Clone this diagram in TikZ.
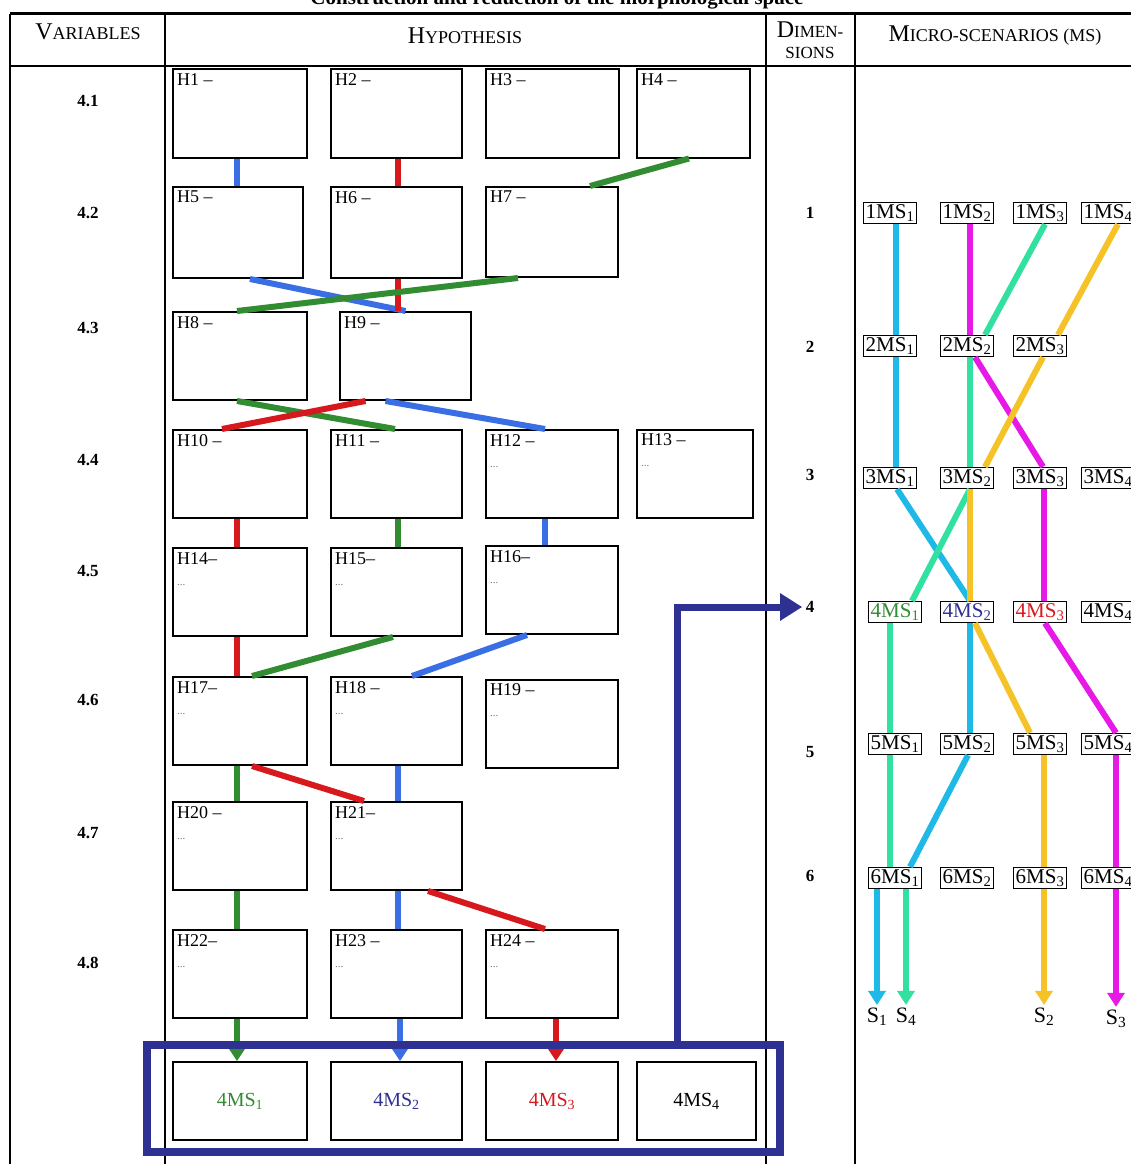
\documentclass[tikz,border=0pt]{standalone}
\usepackage{fontspec}
\setmainfont{Liberation Serif}
\usetikzlibrary{arrows.meta}

\definecolor{hblue}{RGB}{58,110,228}
\definecolor{hred}{RGB}{215,25,30}
\definecolor{hgreen}{RGB}{50,140,50}
\definecolor{navy}{RGB}{46,49,146}
\definecolor{mcyan}{RGB}{30,185,230}
\definecolor{mmag}{RGB}{230,25,230}
\definecolor{maqua}{RGB}{50,225,160}
\definecolor{mgold}{RGB}{245,195,40}
\definecolor{dotgray}{RGB}{120,120,120}

\newcommand{\hdbig}[1]{{\fontsize{24}{26}\selectfont #1}}
\newcommand{\hdsmall}[1]{{\fontsize{18}{21}\selectfont #1}}
\newcommand{\dotsline}{{\color{dotgray}\fontsize{11}{12}\selectfont ...}}

\begin{document}
\begin{tikzpicture}[x=1pt, y=-1pt,
    rule/.style={line width=2pt},
    hyp/.style={draw, line width=2pt, minimum height=88pt, inner sep=0pt},
    hlab/.style={anchor=north west, inner sep=5pt, align=left, font=\fontsize{18}{21}\selectfont},
    mbox/.style={draw, line width=2pt, minimum height=78pt, font=\fontsize{20}{22}\selectfont},
    ms/.style={draw, line width=1.3pt, inner sep=2pt, font=\fontsize{21}{23}\selectfont},
    varlab/.style={font=\bfseries\fontsize{17}{19}\selectfont},
    slab/.style={inner sep=3pt, font=\fontsize{22}{24}\selectfont},
    link/.style={line width=6pt},
    hto/.style={-{Triangle[width=15pt,length=12pt]}},
    mto/.style={-{Triangle[width=17pt,length=14pt]}},
    frame/.style={draw=navy, line width=8pt}
]
    \useasboundingbox (0,0) rectangle (1131,1164);

    % title, cut at the top
    \node[font=\bfseries\fontsize{21}{24}\selectfont, anchor=base] (title) at (557,5)
        {Construction and reduction of the morphological space};

    % table rules
    \draw[line width=3pt] (10,14) -- (1131,14);
    \draw[rule] (10,66) -- (1131,66);
    \draw[rule] (10,14) -- (10,1164);
    \draw[rule] (165,14) -- (165,1164);
    \draw[rule] (766,14) -- (766,1164);
    \draw[rule] (855,14) -- (855,1164);

    % headers
    \node (hvar) at (88,32) {\hdbig{V}\hdsmall{ARIABLES}};
    \node (hhyp) at (465,36) {\hdbig{H}\hdsmall{YPOTHESIS}};
    \node[align=center, inner sep=0pt, font=\fontsize{17}{21}\selectfont] (hdim) at (810,40) {\hdbig{D}IMEN-\\SIONS};
    \node (hms) at (995,36) {\hdbig{M}\hdsmall{ICRO-SCENARIOS (MS)}};

    % variables
    \node[varlab] (v1) at (88,101) {4.1};
    \node[varlab] (v2) at (88,213) {4.2};
    \node[varlab] (v3) at (88,328) {4.3};
    \node[varlab] (v4) at (88,460) {4.4};
    \node[varlab] (v5) at (88,571) {4.5};
    \node[varlab] (v6) at (88,700) {4.6};
    \node[varlab] (v7) at (88,833) {4.7};
    \node[varlab] (v8) at (88,963) {4.8};

    % dimensions
    \node[varlab] (d1) at (810,213) {1};
    \node[varlab] (d2) at (810,347) {2};
    \node[varlab] (d3) at (810,475) {3};
    \node[varlab] (d4) at (810,607) {4};
    \node[varlab] (d5) at (810,752) {5};
    \node[varlab] (d6) at (810,876) {6};

    % hypothesis boxes
    \node[hyp, minimum width=134pt, label={[hlab]north west:H1 –}] (h1) at (240,113.5) {};
    \node[hyp, minimum width=131pt, label={[hlab]north west:H2 –}] (h2) at (396.5,113.5) {};
    \node[hyp, minimum width=133pt, label={[hlab]north west:H3 –}] (h3) at (552.5,113.5) {};
    \node[hyp, minimum width=113pt, label={[hlab]north west:H4 –}] (h4) at (693.5,113.5) {};

    \node[hyp, minimum width=130pt, minimum height=91pt, label={[hlab]north west:H5 –}] (h5) at (238,232.5) {};
    \node[hyp, minimum width=131pt, minimum height=91pt, label={[hlab]north west:H6 –}] (h6) at (396.5,232.5) {};
    \node[hyp, minimum width=132pt, minimum height=90pt, label={[hlab]north west:H7 –}] (h7) at (552,232) {};

    \node[hyp, minimum width=134pt, label={[hlab]north west:H8 –}] (h8) at (240,356) {};
    \node[hyp, minimum width=131pt, label={[hlab]north west:H9 –}] (h9) at (405.5,356) {};

    \node[hyp, minimum width=134pt, label={[hlab]north west:H10 –}] (h10) at (240,474) {};
    \node[hyp, minimum width=131pt, label={[hlab]north west:H11 –}] (h11) at (396.5,474) {};
    \node[hyp, minimum width=132pt, label={[hlab]north west:{H12 –\\\dotsline}}] (h12) at (552,474) {};
    \node[hyp, minimum width=116pt, label={[hlab]north west:{H13 –\\\dotsline}}] (h13) at (695,473.5) {};

    \node[hyp, minimum width=134pt, label={[hlab]north west:{H14–\\\dotsline}}] (h14) at (240,592) {};
    \node[hyp, minimum width=131pt, label={[hlab]north west:{H15–\\\dotsline}}] (h15) at (396.5,592) {};
    \node[hyp, minimum width=132pt, label={[hlab]north west:{H16–\\\dotsline}}] (h16) at (552,590) {};

    \node[hyp, minimum width=134pt, label={[hlab]north west:{H17–\\\dotsline}}] (h17) at (240,721) {};
    \node[hyp, minimum width=131pt, label={[hlab]north west:{H18 –\\\dotsline}}] (h18) at (396.5,721) {};
    \node[hyp, minimum width=132pt, label={[hlab]north west:{H19 –\\\dotsline}}] (h19) at (552,723.5) {};

    \node[hyp, minimum width=134pt, label={[hlab]north west:{H20 –\\\dotsline}}] (h20) at (240,846) {};
    \node[hyp, minimum width=131pt, label={[hlab]north west:{H21–\\\dotsline}}] (h21) at (396.5,846) {};

    \node[hyp, minimum width=134pt, label={[hlab]north west:{H22–\\\dotsline}}] (h22) at (240,974) {};
    \node[hyp, minimum width=131pt, label={[hlab]north west:{H23 –\\\dotsline}}] (h23) at (396.5,974) {};
    \node[hyp, minimum width=132pt, label={[hlab]north west:{H24 –\\\dotsline}}] (h24) at (552,974) {};

    % reduced micro-scenarios of dimension 4
    \node[mbox, minimum width=134pt, text=hgreen] (m1) at (240,1101) {4MS\textsubscript{1}};
    \node[mbox, minimum width=131pt, text=navy] (m2) at (396.5,1101) {4MS\textsubscript{2}};
    \node[mbox, minimum width=132pt, text=hred] (m3) at (552,1101) {4MS\textsubscript{3}};
    \node[mbox, minimum width=119pt] (m4) at (696.5,1101) {4MS\textsubscript{4}};

    % links between hypotheses
    \draw[link, hblue] ([xshift=-3pt]h1.south) -- ([xshift=-1pt]h5.north);
    \draw[link, hred] ([xshift=1.5pt]h2.south) -- ([xshift=1.5pt]h6.north);
    \draw[link, hgreen] ([xshift=-4.5pt]h4.south) -- ([xshift=38pt]h7.north);
    \draw[link, hblue] ([xshift=12pt]h5.south) -- (h9.north);
    \draw[link, hred] ([xshift=1.5pt]h6.south) -- ([xshift=-7.5pt]h9.north);
    \draw[link, hgreen] ([xshift=-34pt]h7.south) -- ([xshift=-3pt]h8.north);
    \draw[link, hgreen] ([xshift=-3pt]h8.south) -- ([xshift=-1.5pt]h11.north);
    \draw[link, hred] ([xshift=-40pt]h9.south) -- ([xshift=-18pt]h10.north);
    \draw[link, hblue] ([xshift=-20pt]h9.south) -- ([xshift=-7pt]h12.north);
    \draw[link, hred] ([xshift=-3pt]h10.south) -- ([xshift=-3pt]h14.north);
    \draw[link, hgreen] ([xshift=1.5pt]h11.south) -- ([xshift=1.5pt]h15.north);
    \draw[link, hblue] ([xshift=-7pt]h12.south) -- ([xshift=-7pt]h16.north);
    \draw[link, hred] ([xshift=-3pt]h14.south) -- ([xshift=-3pt]h17.north);
    \draw[link, hgreen] ([xshift=-3.5pt]h15.south) -- ([xshift=12pt]h17.north);
    \draw[link, hblue] ([xshift=-25pt]h16.south) -- ([xshift=15.5pt]h18.north);
    \draw[link, hgreen] ([xshift=-3pt]h17.south) -- ([xshift=-3pt]h20.north);
    \draw[link, hred] ([xshift=12pt]h17.south) -- ([xshift=-32.5pt]h21.north);
    \draw[link, hblue] ([xshift=1.5pt]h18.south) -- ([xshift=1.5pt]h21.north);
    \draw[link, hgreen] ([xshift=-3pt]h20.south) -- ([xshift=-3pt]h22.north);
    \draw[link, hblue] ([xshift=1.5pt]h21.south) -- ([xshift=1.5pt]h23.north);
    \draw[link, hred] ([xshift=31.5pt]h21.south) -- ([xshift=-7pt]h24.north);
    \draw[link, hto, hgreen] ([xshift=-3pt]h22.south) -- ([xshift=-3pt]m1.north);
    \draw[link, hto, hblue] ([xshift=3.5pt]h23.south) -- ([xshift=3.5pt]m2.north);
    \draw[link, hto, hred] ([xshift=4pt]h24.south) -- ([xshift=4pt]m3.north);

    % frame round the reduced space and arrow to dimension 4
    \node[frame, minimum width=633pt, minimum height=107pt] (box4) at (463.5,1098.5) {};
    \coordinate (turn) at (677,1045);
    \draw[navy, line width=7pt, -{Triangle[width=26pt,length=22pt]}] (turn) |- (d4.west);

    % micro-scenarios
    \foreach \c/\x in {1/890,2/967,3/1040,4/1108}
        \node[ms] (r1\c) at (\x,213) {1MS\textsubscript{\c}};
    \foreach \c/\x in {1/890,2/967,3/1040}
        \node[ms] (r2\c) at (\x,346) {2MS\textsubscript{\c}};
    \foreach \c/\x in {1/890,2/967,3/1040,4/1108}
        \node[ms] (r3\c) at (\x,478) {3MS\textsubscript{\c}};
    \node[ms, text=hgreen] (r41) at (895,612) {4MS\textsubscript{1}};
    \node[ms, text=navy] (r42) at (967,612) {4MS\textsubscript{2}};
    \node[ms, text=hred] (r43) at (1040,612) {4MS\textsubscript{3}};
    \node[ms] (r44) at (1108,612) {4MS\textsubscript{4}};
    \foreach \c/\x in {1/895,2/967,3/1040,4/1108}
        \node[ms] (r5\c) at (\x,744) {5MS\textsubscript{\c}};
    \foreach \c/\x in {1/895,2/967,3/1040,4/1108}
        \node[ms] (r6\c) at (\x,878) {6MS\textsubscript{\c}};

    % scenarios
    \node[slab] (s1) at (877,1017) {S\textsubscript{1}};
    \node[slab] (s4) at (906,1017) {S\textsubscript{4}};
    \node[slab] (s2) at (1044,1017) {S\textsubscript{2}};
    \node[slab] (s3) at (1116,1019) {S\textsubscript{3}};

    % scenario S1
    \draw[link, mcyan] ([xshift=6pt]r11.south) -- ([xshift=6pt]r21.north);
    \draw[link, mcyan] ([xshift=6pt]r21.south) -- ([xshift=6pt]r31.north);
    \draw[link, mcyan] ([xshift=7pt]r31.south) -- ([xshift=3pt]r42.north);
    \draw[link, mcyan] ([xshift=3pt]r42.south) -- ([xshift=3pt]r52.north);
    \draw[link, mcyan] ([xshift=1pt]r52.south) -- ([xshift=15pt]r61.north);
    \draw[link, mto, mcyan] (r61.south -| s1.north) -- (s1.north);
    % scenario S3
    \draw[link, mmag] ([xshift=3pt]r12.south) -- ([xshift=3pt]r22.north);
    \draw[link, mmag] ([xshift=8pt]r22.south) -- ([xshift=3pt]r33.north);
    \draw[link, mmag] ([xshift=4pt]r33.south) -- ([xshift=4pt]r43.north);
    \draw[link, mmag] ([xshift=5pt]r43.south) -- ([xshift=8pt]r54.north);
    \draw[link, mmag] ([xshift=8pt]r54.south) -- ([xshift=8pt]r64.north);
    \draw[link, mto, mmag] (r64.south -| s3.north) -- (s3.north);
    % scenario S4
    \draw[link, maqua] ([xshift=5pt]r13.south) -- ([xshift=18pt]r22.north);
    \draw[link, maqua] ([xshift=3pt]r22.south) -- ([xshift=3pt]r32.north);
    \draw[link, maqua] ([xshift=3pt]r32.south) -- ([xshift=17pt]r41.north);
    \draw[link, maqua] ([xshift=-5pt]r41.south) -- ([xshift=-5pt]r51.north);
    \draw[link, maqua] ([xshift=-5pt]r51.south) -- ([xshift=-5pt]r61.north);
    \draw[link, mto, maqua] (r61.south -| s4.north) -- (s4.north);
    % scenario S2
    \draw[link, mgold] ([xshift=10pt]r14.south) -- ([xshift=18pt]r23.north);
    \draw[link, mgold] ([xshift=3pt]r23.south) -- ([xshift=18pt]r32.north);
    \draw[link, mgold] ([xshift=3pt]r32.south) -- ([xshift=3pt]r42.north);
    \draw[link, mgold] ([xshift=8pt]r42.south) -- ([xshift=-10pt]r53.north);
    \draw[link, mgold] ([xshift=4pt]r53.south) -- ([xshift=4pt]r63.north);
    \draw[link, mto, mgold] (r63.south -| s2.north) -- (s2.north);
\end{tikzpicture}
\end{document}
